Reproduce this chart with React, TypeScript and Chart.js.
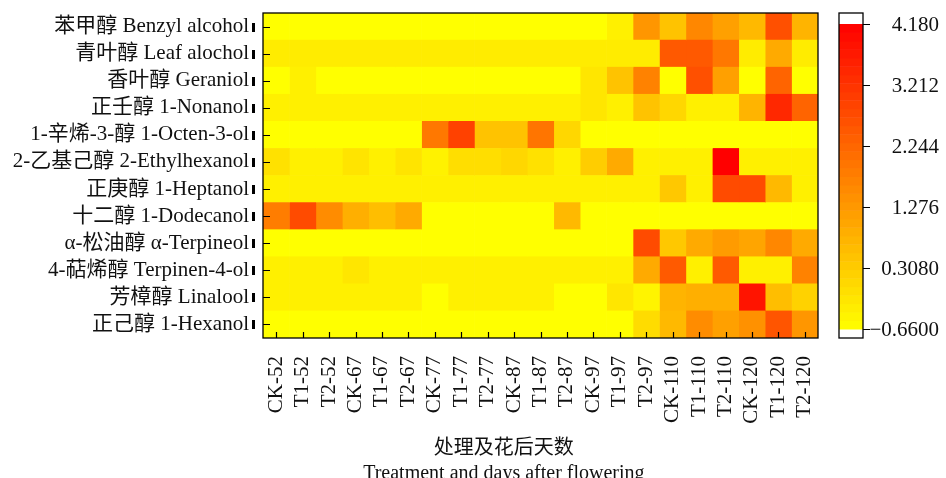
import React, { useEffect, useRef } from "react";
import { Chart, registerables } from "chart.js";
Chart.register(...registerables);

const compounds = [
  "苯甲醇 Benzyl alcohol",
  "青叶醇 Leaf alochol",
  "香叶醇 Geraniol",
  "正壬醇 1-Nonanol",
  "1-辛烯-3-醇 1-Octen-3-ol",
  "2-乙基己醇 2-Ethylhexanol",
  "正庚醇 1-Heptanol",
  "十二醇 1-Dodecanol",
  "α-松油醇 α-Terpineol",
  "4-萜烯醇 Terpinen-4-ol",
  "芳樟醇 Linalool",
  "正己醇 1-Hexanol",
];

const samples = [
  "CK-52", "T1-52", "T2-52", "CK-67", "T1-67", "T2-67", "CK-77", "T1-77", "T2-77",
  "CK-87", "T1-87", "T2-87", "CK-97", "T1-97", "T2-97", "CK-110", "T1-110", "T2-110",
  "CK-120", "T1-120", "T2-120",
];

const benzylAlcohol = [-0.66, -0.66, -0.66, -0.66, -0.66, -0.66, -0.66, -0.66, -0.66, -0.66, -0.66, -0.66, -0.66, -0.38, 1.33, 0.48, 1.62, 1.14, 0.67, 2.66, 0.76];
const leafAlcohol = [-0.3, -0.3, -0.3, -0.3, -0.3, -0.3, -0.3, -0.3, -0.3, -0.3, -0.3, -0.3, -0.3, -0.3, -0.3, 2.5, 2.5, 1.9, -0.3, 0.95, -0.3];
const geraniol = [-0.66, -0.38, -0.66, -0.66, -0.66, -0.66, -0.66, -0.66, -0.66, -0.66, -0.66, -0.66, -0.19, 0.48, 1.71, -0.66, 2.66, 1.14, -0.66, 2.28, -0.66];
const nonanol = [-0.38, -0.38, -0.38, -0.38, -0.38, -0.38, -0.38, -0.38, -0.38, -0.38, -0.38, -0.38, -0.19, -0.38, 0.48, 0.1, -0.38, -0.38, 0.76, 3.42, 2.28];
const octenol = [-0.66, -0.66, -0.66, -0.66, -0.66, -0.66, 1.9, 2.95, 0.48, 0.48, 1.95, 0.1, -0.66, -0.66, -0.66, -0.66, -0.66, -0.66, -0.66, -0.66, -0.66];
const ethylhexanol = [-0.09, -0.38, -0.38, -0.15, -0.38, -0.15, -0.42, -0.03, -0.03, 0.1, -0.09, -0.38, 0.29, 0.95, -0.38, -0.38, -0.38, 4.18, -0.38, -0.38, -0.38];
const heptanol = [-0.38, -0.38, -0.38, -0.38, -0.38, -0.38, -0.38, -0.38, -0.38, -0.38, -0.38, -0.38, -0.38, -0.38, -0.38, 0.38, -0.38, 2.75, 2.75, 0.67, -0.38];
const dodecanol = [1.8, 2.75, 1.52, 0.86, 0.57, 0.95, -0.66, -0.66, -0.66, -0.66, -0.66, 0.67, -0.66, -0.66, -0.66, -0.66, -0.66, -0.66, -0.66, -0.66, -0.66];
const terpineol = [-0.66, -0.66, -0.66, -0.66, -0.66, -0.66, -0.66, -0.66, -0.66, -0.66, -0.66, -0.66, -0.66, -0.66, 2.75, 0.38, 0.95, 1.24, 1.05, 1.62, 0.95];
const terpinen4ol = [-0.38, -0.38, -0.38, -0.19, -0.38, -0.38, -0.38, -0.38, -0.38, -0.38, -0.38, -0.38, -0.38, -0.38, 0.95, 2.47, -0.38, 2.47, -0.38, -0.38, 1.71];
const linalool = [-0.38, -0.38, -0.38, -0.38, -0.38, -0.38, -0.66, -0.38, -0.38, -0.38, -0.38, -0.66, -0.66, -0.19, -0.45, 0.76, 0.86, 0.86, 3.8, 0.57, 0.19];
const hexanol = [-0.66, -0.66, -0.66, -0.66, -0.66, -0.66, -0.66, -0.66, -0.66, -0.66, -0.66, -0.66, -0.66, -0.66, 0.0, 0.67, 1.52, 1.14, 1.43, 2.57, 1.33];

const rows = [benzylAlcohol, leafAlcohol, geraniol, nonanol, octenol, ethylhexanol, heptanol, dodecanol, terpineol, terpinen4ol, linalool, hexanol];

const colorMin = -0.66;
const colorMax = 4.18;
const colorTicks = [4.18, 3.212, 2.244, 1.276, 0.308, -0.66];
const colorTickLabels = ["4.180", "3.212", "2.244", "1.276", "0.3080", "\u22120.6600"];

const xTitle1 = "处理及花后天数";
const xTitle2 = "Treatment and days after flowering";

const FONT = "'Liberation Serif', 'Times New Roman', 'Noto Sans CJK SC', serif";

function heatColor(v: number): string {
  let t = (v - colorMin) / (colorMax - colorMin);
  t = Math.max(0, Math.min(1, t));
  const g = Math.round(255 * (1 - t));
  return `rgb(255,${g},0)`;
}

const decorPlugin = {
  id: "decor",
  afterDraw(chart: any) {
    const { ctx, chartArea } = chart;
    const { left, right, top, bottom } = chartArea;
    const xs = chart.scales.x;
    const ys = chart.scales.y;
    ctx.save();
    // frame
    ctx.strokeStyle = "#000";
    ctx.lineWidth = 1.3;
    ctx.strokeRect(left, top, right - left, bottom - top);
    // inward ticks
    ctx.lineWidth = 1.2;
    ctx.beginPath();
    compounds.forEach((_, i) => {
      const y = Math.round(ys.getPixelForValue(i)) + 0.5;
      ctx.moveTo(left, y);
      ctx.lineTo(left + 7, y);
    });
    samples.forEach((_, i) => {
      const x = Math.round(xs.getPixelForValue(i + 0.5)) + 0.5;
      ctx.moveTo(x, bottom);
      ctx.lineTo(x, bottom - 6);
    });
    ctx.stroke();
    // small marks at label ends
    ctx.fillStyle = "#000";
    compounds.forEach((_, i) => {
      const y = ys.getPixelForValue(i);
      ctx.fillRect(left - 11, Math.round(y - 4), 3, 9);
    });

    // colorbar
    const cbLeft = right + 21;
    const cbRight = right + 45;
    const cbTop = top + 11;
    const cbBottom = bottom - 9;
    const toY = (v: number) => cbBottom - ((v - colorMin) / (colorMax - colorMin)) * (cbBottom - cbTop);
    ctx.fillStyle = "#fff";
    ctx.fillRect(cbLeft, top, cbRight - cbLeft, bottom - top);
    const nBands = 36;
    for (let k = 0; k < nBands; k++) {
      const v0 = colorMin + ((colorMax - colorMin) * k) / nBands;
      const v1 = colorMin + ((colorMax - colorMin) * (k + 1)) / nBands;
      const y0 = toY(v0);
      const y1 = toY(v1);
      ctx.fillStyle = heatColor((v0 + v1) / 2);
      ctx.fillRect(cbLeft, y1, cbRight - cbLeft, y0 - y1 + 0.5);
    }
    ctx.strokeStyle = "#000";
    ctx.lineWidth = 1.3;
    ctx.strokeRect(cbLeft, top, cbRight - cbLeft, bottom - top);
    ctx.lineWidth = 1.2;
    ctx.beginPath();
    colorTicks.forEach((v) => {
      const y = Math.round(toY(v)) + 0.5;
      ctx.moveTo(cbRight, y);
      ctx.lineTo(cbRight + 7, y);
    });
    ctx.stroke();
    ctx.fillStyle = "#111";
    ctx.font = `21px ${FONT}`;
    ctx.textAlign = "right";
    ctx.textBaseline = "middle";
    colorTicks.forEach((v, i) => {
      ctx.fillText(colorTickLabels[i], right + 121, toY(v) + 1);
    });

    // axis title
    const cx = left + (right - left) * 0.434;
    ctx.textAlign = "center";
    ctx.font = `20px ${FONT}`;
    ctx.fillText(xTitle1, cx, 449);
    ctx.fillText(xTitle2, cx, 474);
    ctx.restore();
  },
};

export default function App() {
  const ref = useRef<HTMLCanvasElement | null>(null);
  useEffect(() => {
    if (!ref.current) return;
    const datasets = samples.map((s, j) => ({
      label: s,
      data: compounds.map(() => 1),
      backgroundColor: rows.map((r) => heatColor(r[j])),
      borderWidth: 0,
      barPercentage: 1,
      categoryPercentage: 1,
    }));
    const zeroPad = (s: any) => {
      s.paddingTop = 0;
      s.paddingBottom = 0;
      s.paddingLeft = 0;
      s.paddingRight = 0;
    };
    const chart = new Chart(ref.current, {
      type: "bar",
      data: { labels: compounds, datasets },
      options: {
        indexAxis: "y",
        responsive: false,
        animation: false,
        layout: { padding: { left: 0, right: 128, top: 13, bottom: 0 } },
        plugins: { legend: { display: false }, tooltip: { enabled: false }, title: { display: false } },
        scales: {
          x: {
            type: "linear",
            stacked: true,
            min: 0,
            max: samples.length,
            grid: { display: false, drawTicks: false },
            border: { display: false },
            afterBuildTicks: (s: any) => {
              s.ticks = samples.map((_, i) => ({ value: i + 0.5 }));
            },
            ticks: {
              autoSkip: false,
              maxRotation: 90,
              minRotation: 90,
              padding: 18,
              color: "#111",
              font: { family: FONT, size: 21 },
              callback: (_v: any, i: number) => samples[i],
            },
            afterFit: (s: any) => {
              s.height = 140;
              zeroPad(s);
            },
          },
          y: {
            type: "category",
            stacked: true,
            offset: true,
            grid: { display: false, drawTicks: false },
            border: { display: false },
            ticks: {
              autoSkip: false,
              padding: 14,
              color: "#111",
              font: { family: FONT, size: 21 },
            },
            afterFit: (s: any) => {
              s.width = 263;
              zeroPad(s);
            },
          },
        },
      },
      plugins: [decorPlugin],
    } as any);
    return () => chart.destroy();
  }, []);
  return (
    <div style={{ position: "fixed", left: 0, top: 0, width: 946, height: 478, background: "#fff" }}>
      <canvas ref={ref} width={946} height={478} style={{ display: "block" }} />
    </div>
  );
}
